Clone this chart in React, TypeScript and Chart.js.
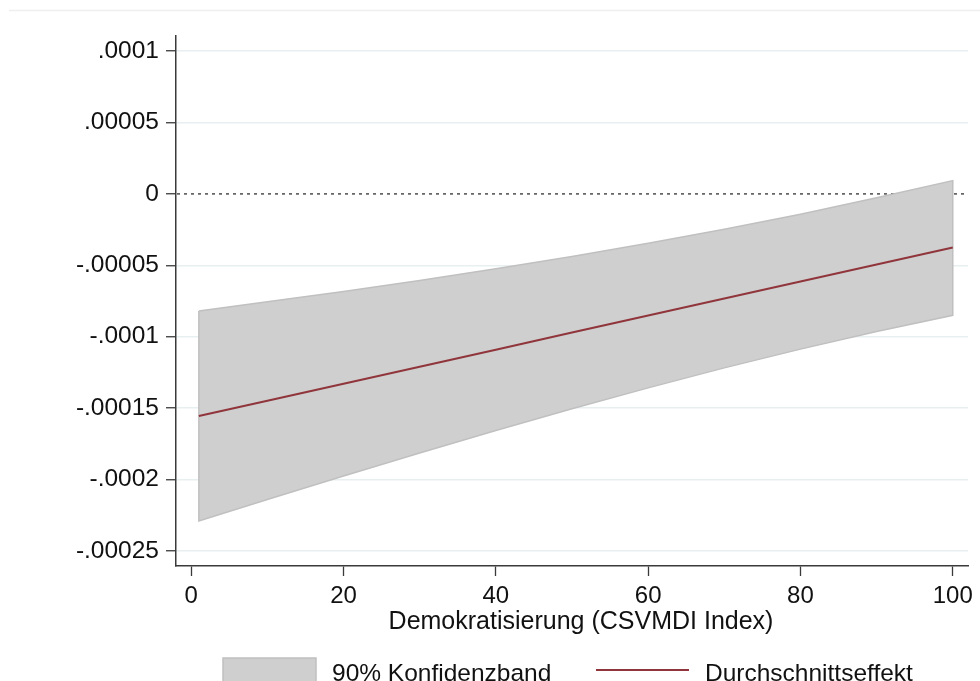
import React, { useEffect, useRef } from "react";
import { Chart, registerables } from "chart.js";

Chart.register(...registerables);

// ---- data ----
const xValues = [1, 10, 20, 30, 40, 50, 60, 70, 80, 90, 100];
const effect = [-1.555e-4, -1.448e-4, -1.329e-4, -1.21e-4, -1.091e-4, -0.971e-4, -0.852e-4, -0.733e-4, -0.614e-4, -0.495e-4, -0.376e-4];
const upperBound = [-8.2e-5, -7.56e-5, -6.83e-5, -6.06e-5, -5.25e-5, -4.38e-5, -3.46e-5, -2.48e-5, -1.42e-5, -0.27e-5, 0.93e-5];
const lowerBound = [-2.29e-4, -2.14e-4, -1.975e-4, -1.814e-4, -1.657e-4, -1.504e-4, -1.358e-4, -1.218e-4, -1.087e-4, -0.963e-4, -0.85e-4];

const yTickValues = [0.0001, 0.00005, 0, -0.00005, -0.0001, -0.00015, -0.0002, -0.00025];
const yTickLabels = [".0001", ".00005", "0", "-.00005", "-.0001", "-.00015", "-.0002", "-.00025"];
const xTickValues = [0, 20, 40, 60, 80, 100];
const xTickLabels = ["0", "20", "40", "60", "80", "100"];

const xTitle = "Demokratisierung (CSVMDI Index)";
const bandLabel = "90% Konfidenzband";
const lineLabel = "Durchschnittseffekt";

const FONT = "'Liberation Sans', Arial, Helvetica, sans-serif";
const BAND_FILL = "#cfcfcf";
const BAND_EDGE = "#c0c0c0";
const LINE_COLOR = "#90353b";
const AXIS_COLOR = "#3a3a3a";
const GRID_COLOR = "#e8eff1";

export default function App() {
  const ref = useRef<HTMLCanvasElement | null>(null);

  useEffect(() => {
    const canvas = ref.current;
    if (!canvas) return;

    const bandPolygon = [
      ...xValues.map((x, i) => ({ x, y: upperBound[i] })),
      ...xValues
        .map((x, i) => ({ x, y: lowerBound[i] }))
        .reverse(),
      { x: xValues[0], y: upperBound[0] },
    ];
    const linePoints = xValues.map((x, i) => ({ x, y: effect[i] }));

    const decor = {
      id: "decor",
      beforeDatasetsDraw(chart: any) {
        const { ctx, chartArea, scales } = chart;
        const y0 = scales.y.getPixelForValue(0);
        ctx.save();
        ctx.strokeStyle = "#666";
        ctx.lineWidth = 1.6;
        ctx.setLineDash([3, 4]);
        ctx.beginPath();
        ctx.moveTo(chartArea.left + 1, y0);
        ctx.lineTo(chartArea.right, y0);
        ctx.stroke();
        ctx.restore();
      },
      afterDraw(chart: any) {
        const { ctx } = chart;
        ctx.save();
        // outer faint border line at top
        ctx.strokeStyle = "#eeeeee";
        ctx.lineWidth = 1.5;
        ctx.beginPath();
        ctx.moveTo(9, 10.5);
        ctx.lineTo(980, 10.5);
        ctx.stroke();

        // axis title
        ctx.fillStyle = "#111";
        ctx.font = `25px ${FONT}`;
        ctx.textAlign = "center";
        ctx.textBaseline = "alphabetic";
        ctx.fillText(xTitle, 581, 629);

        // legend
        ctx.fillStyle = BAND_FILL;
        ctx.fillRect(223, 658, 93, 30);
        ctx.strokeStyle = BAND_EDGE;
        ctx.lineWidth = 1.5;
        ctx.strokeRect(223, 658, 93, 30);
        ctx.strokeStyle = LINE_COLOR;
        ctx.lineWidth = 2;
        ctx.beginPath();
        ctx.moveTo(596, 670);
        ctx.lineTo(689, 670);
        ctx.stroke();
        ctx.fillStyle = "#111";
        ctx.font = `24.5px ${FONT}`;
        ctx.textAlign = "left";
        ctx.fillText(bandLabel, 332, 681);
        ctx.fillText(lineLabel, 705, 681);
        ctx.restore();
      },
    };

    const chart = new Chart(canvas, {
      type: "line",
      data: {
        datasets: [
          {
            label: bandLabel,
            data: bandPolygon,
            backgroundColor: BAND_FILL,
            borderColor: BAND_EDGE,
            borderWidth: 1.5,
            fill: "shape",
            pointRadius: 0,
            tension: 0,
            order: 2,
          } as any,
          {
            label: lineLabel,
            data: linePoints,
            borderColor: LINE_COLOR,
            borderWidth: 2,
            fill: false,
            pointRadius: 0,
            tension: 0,
            order: 1,
          },
        ],
      },
      options: {
        responsive: false,
        animation: false,
        layout: { padding: { left: 0, top: 36, right: 12, bottom: 0 } },
        plugins: {
          legend: { display: false },
          tooltip: { enabled: false },
          title: { display: false },
        },
        scales: {
          x: {
            type: "linear",
            min: -2,
            max: 102,
            afterBuildTicks: (scale: any) => {
              scale.ticks = xTickValues.map((v) => ({ value: v }));
            },
            afterFit: (scale: any) => {
              scale.height = 115;
            },
            grid: {
              drawOnChartArea: false,
              drawTicks: true,
              tickLength: 10,
              tickColor: AXIS_COLOR,
              tickWidth: 1.3,
            },
            border: { display: true, color: AXIS_COLOR, width: 1.5 },
            ticks: {
              autoSkip: false,
              maxRotation: 0,
              padding: 6,
              color: "#111",
              font: { family: FONT, size: 24 },
              callback: (value: any) => {
                const i = xTickValues.indexOf(Number(value));
                return i >= 0 ? xTickLabels[i] : "";
              },
            },
          },
          y: {
            type: "linear",
            min: -0.0002605,
            max: 0.0001105,
            afterBuildTicks: (scale: any) => {
              scale.ticks = yTickValues.map((v) => ({ value: v }));
            },
            afterFit: (scale: any) => {
              scale.width = 176;
            },
            grid: {
              drawOnChartArea: true,
              color: (c: any) =>
                c.tick && c.tick.value === 0 ? "rgba(0,0,0,0)" : GRID_COLOR,
              lineWidth: 1.5,
              drawTicks: true,
              tickLength: 10,
              tickColor: AXIS_COLOR,
              tickWidth: 1.3,
            },
            border: { display: true, color: AXIS_COLOR, width: 1.5 },
            ticks: {
              autoSkip: false,
              padding: 7,
              color: "#111",
              font: { family: FONT, size: 24.5 },
              callback: (value: any) => {
                const i = yTickValues.indexOf(Number(value));
                return i >= 0 ? yTickLabels[i] : "";
              },
            },
          },
        },
      },
      plugins: [decor],
    });

    return () => chart.destroy();
  }, []);

  return (
    <div
      style={{
        position: "absolute",
        left: 0,
        top: 0,
        width: 980,
        height: 681,
        background: "#ffffff",
        overflow: "hidden",
      }}
    >
      <canvas ref={ref} width={980} height={681} style={{ display: "block" }} />
    </div>
  );
}
